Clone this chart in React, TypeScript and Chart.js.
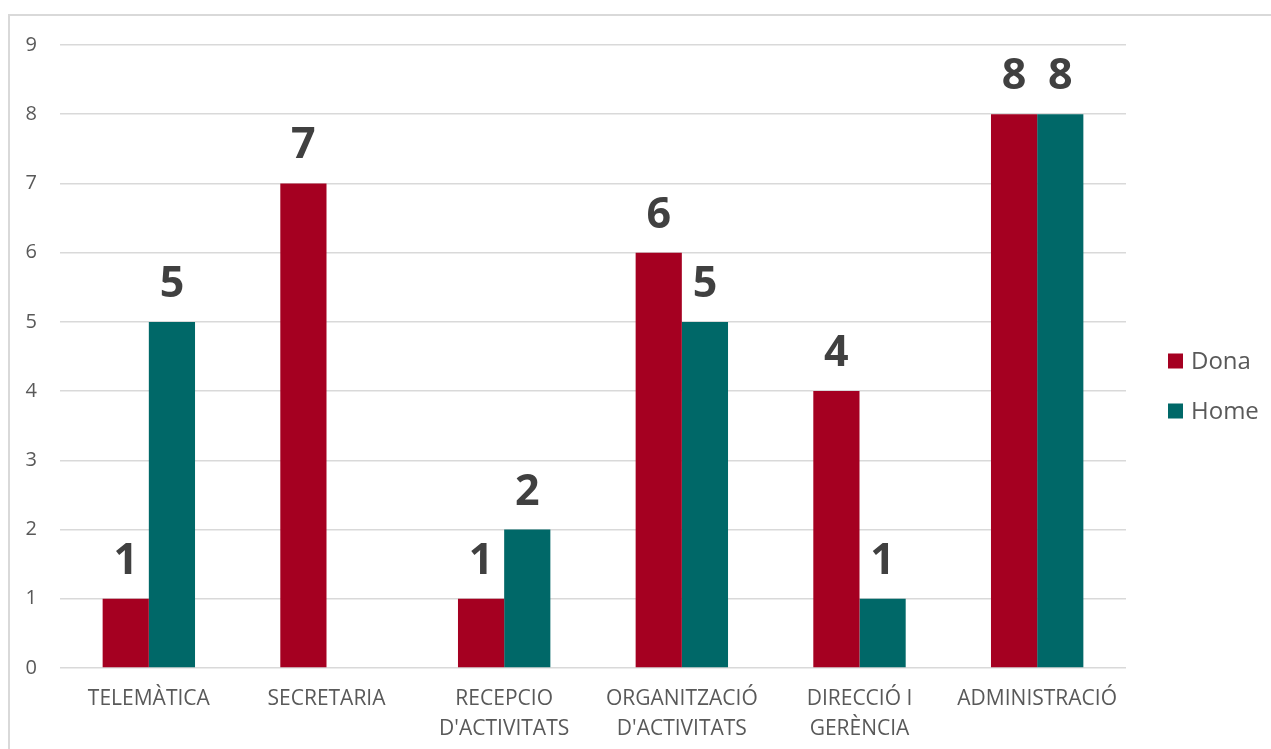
import React, { useEffect, useRef } from "react";
import { Chart, registerables } from "chart.js";

Chart.register(...registerables);

const categories: string[][] = [
  ["TELEMÀTICA"],
  ["SECRETARIA"],
  ["RECEPCIO", "D'ACTIVITATS"],
  ["ORGANITZACIÓ", "D'ACTIVITATS"],
  ["DIRECCIÓ I", "GERÈNCIA"],
  ["ADMINISTRACIÓ"],
];
const donaValues: (number | null)[] = [1, 7, 1, 6, 4, 8];
const homeValues: (number | null)[] = [5, null, 2, 5, 1, 8];
const seriesNames = ["Dona", "Home"];
const seriesColors = ["#A50021", "#006868"];
const yTicksMax = 9;

const FONT = "'Open Sans', sans-serif";

const valueLabels = {
  id: "valueLabels",
  afterDatasetsDraw(chart: any) {
    const ctx = chart.ctx;
    ctx.save();
    ctx.font = `bold 43px ${FONT}`;
    ctx.fillStyle = "#404040";
    ctx.textAlign = "center";
    ctx.textBaseline = "alphabetic";
    chart.data.datasets.forEach((ds: any, di: number) => {
      const meta = chart.getDatasetMeta(di);
      meta.data.forEach((bar: any, i: number) => {
        const v = ds.data[i];
        if (v === null || v === undefined) return;
        ctx.fillText(String(v), bar.x, bar.y - 25);
      });
    });
    ctx.restore();
  },
};

const customLegend = {
  id: "customLegend",
  afterDraw(chart: any) {
    const ctx = chart.ctx;
    const area = chart.chartArea;
    ctx.save();
    ctx.font = `24px ${FONT}`;
    ctx.textBaseline = "middle";
    ctx.textAlign = "left";
    const x = area.right + 42;
    const startY = 351;
    chart.data.datasets.forEach((ds: any, i: number) => {
      const cy = startY + i * 50;
      ctx.fillStyle = ds.backgroundColor;
      ctx.fillRect(x, cy - 7.5, 15, 15);
      ctx.fillStyle = "#595959";
      ctx.fillText(ds.label, x + 23, cy + 1);
    });
    ctx.restore();
  },
};

export default function App() {
  const ref = useRef<HTMLCanvasElement | null>(null);
  useEffect(() => {
    if (!ref.current) return;
    const chart = new Chart(ref.current, {
      type: "bar",
      data: {
        labels: categories,
        datasets: [
          {
            label: seriesNames[0],
            data: donaValues,
            backgroundColor: seriesColors[0],
            categoryPercentage: 0.52,
            barPercentage: 1,
          },
          {
            label: seriesNames[1],
            data: homeValues,
            backgroundColor: seriesColors[1],
            categoryPercentage: 0.52,
            barPercentage: 1,
          },
        ],
      },
      options: {
        responsive: false,
        animation: false,
        layout: { padding: { top: 23, right: 145, left: 0, bottom: 0 } },
        plugins: {
          legend: { display: false },
          tooltip: { enabled: false },
        },
        scales: {
          x: {
            grid: { display: false },
            border: { display: false },
            ticks: {
              color: "#595959",
              font: { family: FONT, size: 21, lineHeight: 1.43 },
              maxRotation: 0,
              autoSkip: false,
              padding: 8,
            },
            afterFit(scale: any) {
              scale.height = 88;
            },
          },
          y: {
            min: 0,
            max: yTicksMax,
            grid: { color: "#d9d9d9", lineWidth: 1.5, drawTicks: false },
            border: { display: false },
            ticks: {
              stepSize: 1,
              color: "#595959",
              font: { family: FONT, size: 20 },
              padding: 23,
            },
            afterFit(scale: any) {
              scale.width = 50;
            },
          },
        },
      },
      plugins: [valueLabels, customLegend],
    });
    return () => chart.destroy();
  }, []);
  return (
    <div
      style={{
        position: "absolute",
        left: 8,
        top: 14,
        width: 1300,
        height: 780,
        border: "2px solid #d9d9d9",
        boxSizing: "border-box",
        background: "#fff",
      }}
    >
      <canvas
        ref={ref}
        width={1261}
        height={746}
        style={{ position: "absolute", left: 0, top: -6, width: 1261, height: 746 }}
      />
    </div>
  );
}
